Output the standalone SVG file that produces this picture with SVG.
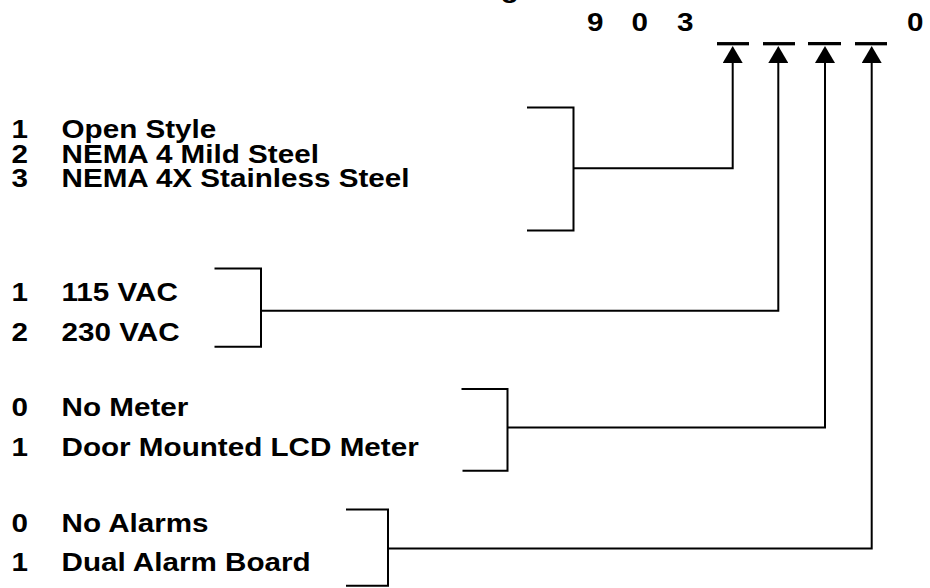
<svg xmlns="http://www.w3.org/2000/svg" width="930" height="588" viewBox="0 0 930 588">
<style>
.t{font-family:"Liberation Sans",Arial,sans-serif;font-weight:bold;font-size:25px;fill:#000}
.br{fill:none;stroke:#000;stroke-width:2}
.cn{fill:none;stroke:#000;stroke-width:2;marker-end:url(#ah)}
.slot{stroke:#000;stroke-width:3.3}
</style>
<defs>
<marker id="ah" markerUnits="userSpaceOnUse" markerWidth="17" markerHeight="20" viewBox="0 0 17 20" refX="3" refY="10" orient="auto">
<path d="M0,0 L17,10 L0,20 Z" fill="#000"/>
</marker>
</defs>
<rect width="930" height="588" fill="#fff"/>
<g id="title">
<text class="t" transform="matrix(1.186 0 0 1 500.7 -2)">g</text>
</g>
<g id="code">
<text class="t" transform="matrix(1.186 0 0 1 587 30.7)">9</text>
<text class="t" transform="matrix(1.186 0 0 1 631.5 30.7)">0</text>
<text class="t" transform="matrix(1.186 0 0 1 677 30.7)">3</text>
<text class="t" transform="matrix(1.186 0 0 1 907 30.7)">0</text>
</g>
<g id="slots">
<line class="slot" x1="717" y1="43.7" x2="749" y2="43.7"/>
<line class="slot" x1="763" y1="43.7" x2="795" y2="43.7"/>
<line class="slot" x1="808" y1="43.7" x2="841" y2="43.7"/>
<line class="slot" x1="855" y1="43.7" x2="887" y2="43.7"/>
</g>
<g id="enclosure">
<text class="t" transform="matrix(1.186 0 0 1 11.5 138)">1</text>
<text class="t" transform="matrix(1.186 0 0 1 61.5 138)">Open Style</text>
<text class="t" transform="matrix(1.186 0 0 1 11.5 163)">2</text>
<text class="t" transform="matrix(1.186 0 0 1 61.5 163)">NEMA 4 Mild Steel</text>
<text class="t" transform="matrix(1.186 0 0 1 11.5 187)">3</text>
<text class="t" transform="matrix(1.186 0 0 1 61.5 187)">NEMA 4X Stainless Steel</text>
<path class="br" d="M527,107.5 H573.5 V230.5 H527"/>
</g>
<g id="voltage">
<text class="t" transform="matrix(1.186 0 0 1 11.5 301)">1</text>
<text class="t" transform="matrix(1.186 0 0 1 61.5 301)">115 VAC</text>
<text class="t" transform="matrix(1.186 0 0 1 11.5 341)">2</text>
<text class="t" transform="matrix(1.186 0 0 1 61.5 341)">230 VAC</text>
<path class="br" d="M214.5,268.5 H261 V346.7 H214.5"/>
</g>
<g id="meter">
<text class="t" transform="matrix(1.186 0 0 1 11.5 416)">0</text>
<text class="t" transform="matrix(1.186 0 0 1 61.5 416)">No Meter</text>
<text class="t" transform="matrix(1.186 0 0 1 11.5 456)">1</text>
<text class="t" transform="matrix(1.186 0 0 1 61.5 456)">Door Mounted LCD Meter</text>
<path class="br" d="M461.5,389 H507.5 V470.7 H462.5"/>
</g>
<g id="alarms">
<text class="t" transform="matrix(1.186 0 0 1 11.5 532)">0</text>
<text class="t" transform="matrix(1.186 0 0 1 61.5 532)">No Alarms</text>
<text class="t" transform="matrix(1.186 0 0 1 11.5 571)">1</text>
<text class="t" transform="matrix(1.186 0 0 1 61.5 571)">Dual Alarm Board</text>
<path class="br" d="M346,509.5 H388 V585.7 H346"/>
</g>
<g id="connectors">
<path class="cn" d="M573.5,168.3 H732.7 V60"/>
<path class="cn" d="M261,310.7 H778.3 V60"/>
<path class="cn" d="M507.5,427.5 H825 V60"/>
<path class="cn" d="M388,548.5 H871.7 V60"/>
</g>
</svg>
